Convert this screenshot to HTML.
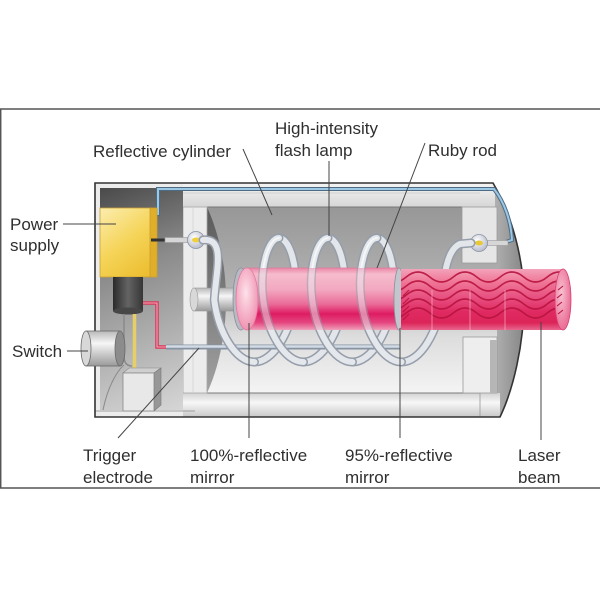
<!DOCTYPE html>
<html>
<head>
<meta charset="utf-8">
<style>
  html,body{margin:0;padding:0;background:#fff;}
  svg{display:block;}
  text{font-family:"Liberation Sans",Arial,sans-serif;font-size:17px;fill:#2f2f2f;}
</style>
</head>
<body>
<svg width="600" height="600" viewBox="0 0 600 600" xmlns="http://www.w3.org/2000/svg">
  <defs>
    <linearGradient id="gCav" x1="0" y1="207" x2="0" y2="393" gradientUnits="userSpaceOnUse">
      <stop offset="0" stop-color="#979797"/>
      <stop offset="0.45" stop-color="#b3b3b3"/>
      <stop offset="0.7" stop-color="#dddddd"/>
      <stop offset="1" stop-color="#f4f4f4"/>
    </linearGradient>
    <linearGradient id="gLeft" x1="100" y1="188" x2="183" y2="410" gradientUnits="userSpaceOnUse">
      <stop offset="0" stop-color="#4a4a4a"/>
      <stop offset="0.35" stop-color="#8a8a8a"/>
      <stop offset="1" stop-color="#d6d6d6"/>
    </linearGradient>
    <linearGradient id="gTop" x1="0" y1="183" x2="0" y2="207" gradientUnits="userSpaceOnUse">
      <stop offset="0" stop-color="#f4f4f4"/>
      <stop offset="1" stop-color="#d6d6d6"/>
    </linearGradient>
    <linearGradient id="gBot" x1="0" y1="393" x2="0" y2="417" gradientUnits="userSpaceOnUse">
      <stop offset="0" stop-color="#d2d2d2"/>
      <stop offset="0.4" stop-color="#f7f7f7"/>
      <stop offset="1" stop-color="#c8c8c8"/>
    </linearGradient>
    <linearGradient id="gCap" x1="480" y1="0" x2="524" y2="0" gradientUnits="userSpaceOnUse">
      <stop offset="0" stop-color="#c6c6c6"/>
      <stop offset="1" stop-color="#868686"/>
    </linearGradient>
    <linearGradient id="gShadow" x1="0" y1="207" x2="0" y2="393" gradientUnits="userSpaceOnUse">
      <stop offset="0" stop-color="#5a5a5a"/>
      <stop offset="1" stop-color="#a2a2a2"/>
    </linearGradient>
    <linearGradient id="gBox" x1="100" y1="208" x2="152" y2="277" gradientUnits="userSpaceOnUse">
      <stop offset="0" stop-color="#fcedb0"/>
      <stop offset="0.5" stop-color="#f5d458"/>
      <stop offset="1" stop-color="#ebbb2c"/>
    </linearGradient>
    <linearGradient id="gCyl" x1="113" y1="0" x2="143" y2="0" gradientUnits="userSpaceOnUse">
      <stop offset="0" stop-color="#2a2a2a"/>
      <stop offset="0.5" stop-color="#646464"/>
      <stop offset="1" stop-color="#363636"/>
    </linearGradient>
    <linearGradient id="gGreyV" x1="0" y1="0" x2="0" y2="1">
      <stop offset="0" stop-color="#b8b8b8"/>
      <stop offset="0.35" stop-color="#f6f6f6"/>
      <stop offset="1" stop-color="#9a9a9a"/>
    </linearGradient>
    <linearGradient id="gRod" x1="0" y1="268" x2="0" y2="330" gradientUnits="userSpaceOnUse">
      <stop offset="0" stop-color="#ea86a6"/>
      <stop offset="0.1" stop-color="#f6bccd"/>
      <stop offset="0.35" stop-color="#f2a8c0"/>
      <stop offset="0.58" stop-color="#ea6c98"/>
      <stop offset="0.74" stop-color="#de1c62"/>
      <stop offset="0.88" stop-color="#e44680"/>
      <stop offset="1" stop-color="#f0a0ba"/>
    </linearGradient>
    <linearGradient id="gBeam" x1="0" y1="269" x2="0" y2="330" gradientUnits="userSpaceOnUse">
      <stop offset="0" stop-color="#f3a3ba"/>
      <stop offset="0.2" stop-color="#f07898"/>
      <stop offset="0.45" stop-color="#e85282"/>
      <stop offset="0.7" stop-color="#df2a62"/>
      <stop offset="0.88" stop-color="#dc2458"/>
      <stop offset="1" stop-color="#e8668e"/>
    </linearGradient>
    <radialGradient id="gFace" cx="0.45" cy="0.4" r="0.7">
      <stop offset="0" stop-color="#fde2ea"/>
      <stop offset="1" stop-color="#ee86a8"/>
    </radialGradient>
    <radialGradient id="gFace2" cx="0.4" cy="0.4" r="0.7">
      <stop offset="0" stop-color="#f8c2d2"/>
      <stop offset="1" stop-color="#e8608c"/>
    </radialGradient>
    <radialGradient id="gBulb" cx="0.4" cy="0.35" r="0.7">
      <stop offset="0" stop-color="#ffffff"/>
      <stop offset="1" stop-color="#b4b8c8"/>
    </radialGradient>
    <clipPath id="cRod"><rect x="238" y="268" width="161" height="62"/></clipPath>
    <clipPath id="cOut"><path clip-rule="evenodd" d="M0,0H600V600H0Z M238,268H399V330H238Z"/></clipPath>
    <clipPath id="cBeam"><rect x="401" y="269" width="162" height="61"/></clipPath>
  </defs>

  <!-- frame -->
  <line x1="0" y1="109" x2="600" y2="109" stroke="#555" stroke-width="1.5"/>
  <line x1="0" y1="488" x2="600" y2="488" stroke="#555" stroke-width="1.5"/>
  <line x1="0.7" y1="109" x2="0.7" y2="488" stroke="#555" stroke-width="1.5"/>

  <!-- end cap -->
  <path d="M480,183 H493 C512,215 524,260 524,300 C524,345 513,390 500,417 H480 Z" fill="url(#gCap)"/>
  <!-- cavity -->
  <rect x="207" y="207" width="290" height="186" fill="url(#gCav)"/>
  <path d="M207,207 C222,240 226,275 226,300 C226,330 220,365 207,393 Z" fill="url(#gShadow)"/>
  <!-- top band -->
  <rect x="183" y="183" width="312" height="24" fill="url(#gTop)"/>
  <line x1="207" y1="207" x2="462" y2="207" stroke="#7a7a7a" stroke-width="1"/>
  <line x1="183" y1="193" x2="480" y2="193" stroke="#c8c8c8" stroke-width="0.8"/>
  <!-- bottom band -->
  <rect x="183" y="393" width="317" height="24" fill="url(#gBot)"/>
  <line x1="207" y1="393" x2="480" y2="393" stroke="#7a7a7a" stroke-width="1"/>
  <line x1="480" y1="393" x2="480" y2="417" stroke="#999" stroke-width="0.8"/>
  <!-- white plate -->
  <rect x="183" y="207" width="24" height="186" fill="#ececec" stroke="#a8a8a8" stroke-width="0.8"/>
  <line x1="193" y1="207" x2="193" y2="393" stroke="#d4d4d4" stroke-width="0.8"/>
  <!-- right blocks -->
  <rect x="462" y="207" width="35" height="56" fill="#e6e6e6" stroke="#9a9a9a" stroke-width="0.8"/>
  <rect x="463" y="337" width="34" height="56" fill="#eeeeee" stroke="#9a9a9a" stroke-width="0.8"/>
  <rect x="490" y="340" width="7" height="53" fill="#b6b6b6"/>

  <!-- left compartment -->
  <rect x="95" y="183" width="88" height="234" fill="#ececec"/>
  <rect x="100" y="188" width="83" height="222" fill="url(#gLeft)"/>
  <line x1="95" y1="411" x2="195" y2="411" stroke="#888" stroke-width="0.8"/>
  <path d="M103,410 C108,385 118,370 124,365" stroke="#8a8a8a" stroke-width="1" fill="none"/>

  <!-- housing outline -->
  <path d="M95,183 H493 C512,215 524,260 524,300 C524,345 513,390 500,417 H95 Z" fill="none" stroke="#333" stroke-width="1.6"/>

  <!-- blue wire -->
  <path d="M152,214 H158 V189 H494 C505,203 511,222 512,240 L506,242" fill="none" stroke="#4d6b82" stroke-width="4"/>
  <path d="M152,214 H158 V189 H494 C505,203 511,222 512,240 L506,242" fill="none" stroke="#9cc8e6" stroke-width="2"/>

  <!-- power supply -->
  <rect x="100" y="208" width="51" height="69" fill="url(#gBox)" stroke="#c8a030" stroke-width="0.8"/>
  <rect x="150" y="208" width="7" height="69" fill="#e0ae28" stroke="#c8a030" stroke-width="0.8"/>
  <rect x="113" y="277" width="30" height="34" fill="url(#gCyl)"/>
  <ellipse cx="128" cy="311" rx="15" ry="3.5" fill="#474747"/>
  <path d="M124,314 V356 Q124,366 132,366" fill="none" stroke="#8a8a8a" stroke-width="1.5"/>
  <line x1="134.5" y1="314" x2="134.5" y2="370" stroke="#e6cf66" stroke-width="3.5"/>
  <!-- switch -->
  <rect x="86" y="331" width="34" height="35" fill="url(#gGreyV)" stroke="#6a6a6a" stroke-width="0.8"/>
  <ellipse cx="120" cy="348.5" rx="5" ry="17.5" fill="#8c8c8c" stroke="#6a6a6a" stroke-width="0.8"/>
  <ellipse cx="86" cy="348.5" rx="5" ry="17.5" fill="#d8d8d8" stroke="#6a6a6a" stroke-width="0.8"/>
  <!-- bottom block -->
  <path d="M123,373 L129,368 L161,368 L154,373 Z" fill="#cfcfcf" stroke="#888" stroke-width="0.6"/>
  <path d="M154,373 L161,368 L161,405 L154,411 Z" fill="#979797" stroke="#777" stroke-width="0.6"/>
  <rect x="123" y="373" width="31" height="38" fill="#e8e8e8" stroke="#888" stroke-width="0.8"/>
  <!-- red wire -->
  <path d="M143,303 H157 V347 H168" fill="none" stroke="#d63658" stroke-width="3.5"/>
  <path d="M143,303 H157 V347 H168" fill="none" stroke="#f5a8b8" stroke-width="1.1"/>

  <!-- left bulb & stubs -->
  <line x1="151" y1="240" x2="166" y2="240" stroke="#333" stroke-width="3"/>
  <rect x="165" y="237.5" width="24" height="5" fill="#d6d6d6" stroke="#999" stroke-width="0.6"/>
  <rect x="203" y="237.5" width="6" height="5" fill="#d6d6d6" stroke="#999" stroke-width="0.6"/>
  <circle cx="196" cy="240" r="8.5" fill="url(#gBulb)" stroke="#8890a0" stroke-width="0.8"/>
  <ellipse cx="196" cy="240" rx="4" ry="2.5" fill="#f0d040"/>
  <!-- right bulb & stubs -->
  <rect x="486" y="240.5" width="22" height="5" fill="#d6d6d6" stroke="#999" stroke-width="0.6"/>
  <circle cx="479" cy="243" r="8.5" fill="url(#gBulb)" stroke="#8890a0" stroke-width="0.8"/>
  <ellipse cx="479" cy="243" rx="4" ry="2.5" fill="#e8c838"/>

  <!-- coil back parts -->
  <g fill="none" stroke-linecap="round">
    <g stroke="#959eaa" stroke-width="9">
      <path d="M254.5,362 C273.24,362 290.67,332.46 294.75,300 C298.83,267.54 289.58,238 279,238"/>
      <path d="M303.5,362 C322.24,362 339.67,332.46 343.75,300 C347.83,267.54 338.58,238 328,238"/>
      <path d="M352.5,362 C371.24,362 388.67,332.46 392.75,300 C396.83,267.54 387.58,238 377,238"/>
      <path d="M401.5,362 C420.24,362 437.67,332.46 441.75,300 C444,278 446,250 460,244 L471,243"/>
    </g>
    <g stroke="#e2e5e9" stroke-width="6">
      <path d="M254.5,362 C273.24,362 290.67,332.46 294.75,300 C298.83,267.54 289.58,238 279,238"/>
      <path d="M303.5,362 C322.24,362 339.67,332.46 343.75,300 C347.83,267.54 338.58,238 328,238"/>
      <path d="M352.5,362 C371.24,362 388.67,332.46 392.75,300 C396.83,267.54 387.58,238 377,238"/>
      <path d="M401.5,362 C420.24,362 437.67,332.46 441.75,300 C444,278 446,250 460,244 L471,243"/>
    </g>
  </g>

  <!-- trigger electrode -->
  <line x1="166" y1="347" x2="400" y2="347" stroke="#8793a2" stroke-width="5"/>
  <line x1="166" y1="346.5" x2="400" y2="346.5" stroke="#d2dbe5" stroke-width="2.5"/>

  <!-- mirror post -->
  <rect x="194" y="288" width="42" height="23" fill="url(#gGreyV)" stroke="#999" stroke-width="0.6"/>
  <ellipse cx="194" cy="299.5" rx="4" ry="11.5" fill="#d8d8d8" stroke="#999" stroke-width="0.6"/>

  <!-- ruby rod -->
  <rect x="246" y="268" width="153" height="62" fill="url(#gRod)"/>
  <line x1="246" y1="268" x2="399" y2="268" stroke="#de7898" stroke-width="0.8"/>
  <ellipse cx="241" cy="299" rx="8" ry="31" fill="#b8bac4" stroke="#8a8e9a" stroke-width="0.8"/>
  <ellipse cx="247" cy="299" rx="11" ry="31" fill="url(#gFace)" stroke="#e07aa0" stroke-width="0.8"/>
  <ellipse cx="399" cy="299" rx="5" ry="31" fill="#c4c6ce" stroke="#8a8e9a" stroke-width="0.8"/>

  <!-- laser beam -->
  <rect x="401" y="269" width="162" height="61" fill="url(#gBeam)"/>
  <g clip-path="url(#cBeam)" fill="none" stroke="#b8143f" stroke-width="1.6" opacity="0.9">
    <path d="M382.75,277 Q394.5,287 406.25,277 T429.75,277 T453.25,277 T476.75,277 T500.25,277 T523.75,277 T547.25,277 T570.75,277"/>
    <path d="M382.75,286 Q394.5,296 406.25,286 T429.75,286 T453.25,286 T476.75,286 T500.25,286 T523.75,286 T547.25,286 T570.75,286"/>
    <path d="M382.75,295 Q394.5,305 406.25,295 T429.75,295 T453.25,295 T476.75,295 T500.25,295 T523.75,295 T547.25,295 T570.75,295"/>
    <path d="M382.75,304 Q394.5,314 406.25,304 T429.75,304 T453.25,304 T476.75,304 T500.25,304 T523.75,304 T547.25,304 T570.75,304"/>
    <path d="M382.75,313 Q394.5,323 406.25,313 T429.75,313 T453.25,313 T476.75,313 T500.25,313 T523.75,313 T547.25,313 T570.75,313"/>
    <g stroke-width="1.2">
      <line x1="403" y1="296" x2="409" y2="290"/>
      <line x1="403" y1="304" x2="409" y2="298"/>
      <line x1="403" y1="312" x2="409" y2="306"/>
      <line x1="403" y1="320" x2="409" y2="314"/>
    </g>
    <g stroke="#f8d0dc" stroke-width="1" opacity="0.6">
      <line x1="432" y1="290" x2="432" y2="330"/>
      <line x1="470" y1="290" x2="470" y2="330"/>
      <line x1="505" y1="290" x2="505" y2="330"/>
    </g>
  </g>
  <ellipse cx="563" cy="299.5" rx="8" ry="30.5" fill="url(#gFace2)" stroke="#d84070" stroke-width="0.8"/>
  <g stroke="#b8143f" stroke-width="1.1">
    <line x1="558" y1="290" x2="563" y2="286"/>
    <line x1="557" y1="298" x2="562" y2="294"/>
    <line x1="557" y1="306" x2="562" y2="302"/>
    <line x1="558" y1="314" x2="563" y2="310"/>
  </g>

  <!-- coil front parts, opaque outside rod -->
  <g fill="none" stroke-linecap="round" clip-path="url(#cOut)">
    <g stroke="#959eaa" stroke-width="9">
      <path d="M203,240 C226,238 216,270 214.25,300 C218.33,332.46 235.76,362 254.5,362"/>
      <path d="M279,238 C268.42,238 259.17,267.54 263.25,300 C267.33,332.46 284.76,362 303.5,362"/>
      <path d="M328,238 C317.42,238 308.17,267.54 312.25,300 C316.33,332.46 333.76,362 352.5,362"/>
      <path d="M377,238 C366.42,238 357.17,267.54 361.25,300 C365.33,332.46 382.76,362 401.5,362"/>
    </g>
    <g stroke="#e4e7eb" stroke-width="6">
      <path d="M203,240 C226,238 216,270 214.25,300 C218.33,332.46 235.76,362 254.5,362"/>
      <path d="M279,238 C268.42,238 259.17,267.54 263.25,300 C267.33,332.46 284.76,362 303.5,362"/>
      <path d="M328,238 C317.42,238 308.17,267.54 312.25,300 C316.33,332.46 333.76,362 352.5,362"/>
      <path d="M377,238 C366.42,238 357.17,267.54 361.25,300 C365.33,332.46 382.76,362 401.5,362"/>
    </g>
    <g stroke="#f6f7f9" stroke-width="1.8">
      <path d="M279,238 C268.42,238 259.17,267.54 263.25,300"/>
      <path d="M328,238 C317.42,238 308.17,267.54 312.25,300"/>
      <path d="M377,238 C366.42,238 357.17,267.54 361.25,300"/>
    </g>
  </g>
  <!-- coil front parts, translucent over rod -->
  <g fill="none" clip-path="url(#cRod)" opacity="0.5">
    <g stroke="#959eaa" stroke-width="9">
      <path d="M279,238 C268.42,238 259.17,267.54 263.25,300 C267.33,332.46 284.76,362 303.5,362"/>
      <path d="M328,238 C317.42,238 308.17,267.54 312.25,300 C316.33,332.46 333.76,362 352.5,362"/>
      <path d="M377,238 C366.42,238 357.17,267.54 361.25,300 C365.33,332.46 382.76,362 401.5,362"/>
    </g>
    <g stroke="#e8ebef" stroke-width="6">
      <path d="M279,238 C268.42,238 259.17,267.54 263.25,300 C267.33,332.46 284.76,362 303.5,362"/>
      <path d="M328,238 C317.42,238 308.17,267.54 312.25,300 C316.33,332.46 333.76,362 352.5,362"/>
      <path d="M377,238 C366.42,238 357.17,267.54 361.25,300 C365.33,332.46 382.76,362 401.5,362"/>
    </g>
  </g>

  <!-- leader lines -->
  <g stroke="#444" stroke-width="1" fill="none">
    <line x1="243" y1="149" x2="272" y2="215"/>
    <line x1="329" y1="161" x2="329" y2="236"/>
    <line x1="425" y1="143" x2="377" y2="268"/>
    <line x1="63" y1="224" x2="116" y2="224"/>
    <line x1="67" y1="351" x2="88" y2="351"/>
    <line x1="118" y1="438" x2="199" y2="348"/>
    <line x1="249" y1="438" x2="249" y2="323"/>
    <line x1="400" y1="438" x2="400" y2="328"/>
    <line x1="541" y1="440" x2="541" y2="322"/>
  </g>

  <!-- labels -->
  <text x="93" y="157">Reflective cylinder</text>
  <text x="275" y="134">High-intensity</text>
  <text x="275" y="156">flash lamp</text>
  <text x="428" y="156">Ruby rod</text>
  <text x="10" y="230">Power</text>
  <text x="10" y="251">supply</text>
  <text x="12" y="357">Switch</text>
  <text x="83" y="461">Trigger</text>
  <text x="83" y="483">electrode</text>
  <text x="190" y="461">100%-reflective</text>
  <text x="190" y="483">mirror</text>
  <text x="345" y="461">95%-reflective</text>
  <text x="345" y="483">mirror</text>
  <text x="518" y="461">Laser</text>
  <text x="518" y="483">beam</text>
</svg>
</body>
</html>
